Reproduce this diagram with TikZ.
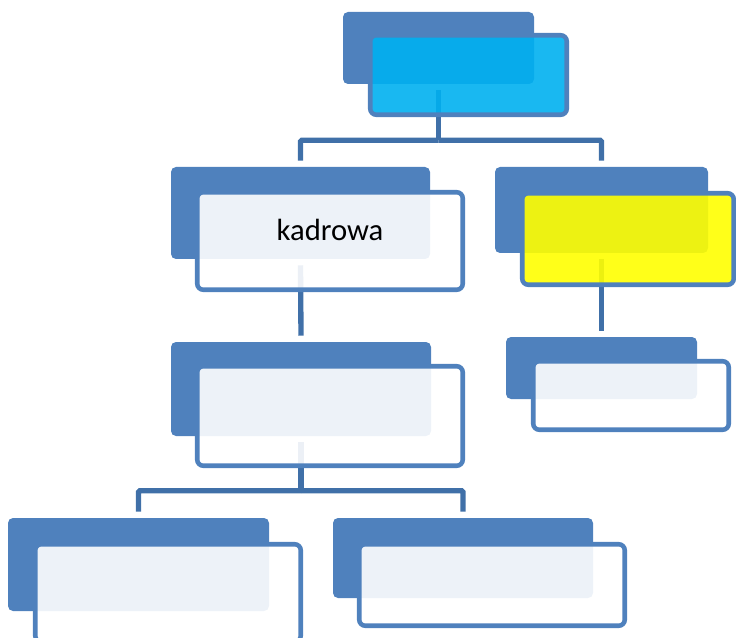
\documentclass[tikz,border=0pt]{standalone}
\usepackage{fontspec}
\setmainfont{Carlito}
\usetikzlibrary{fit,calc}
\definecolor{boxblue}{HTML}{4F81BD}
\definecolor{connblue}{HTML}{4070A8}
\definecolor{topcyan}{HTML}{00B0F0}
\definecolor{hiyellow}{HTML}{FFFF00}
\begin{document}
\begin{tikzpicture}[x={(0.75pt,0)}, y={(0,-0.75pt)},
  backbox/.style={fill=boxblue, draw=none, rounded corners=3.75pt, inner sep=0pt},
  frontbox/.style={draw=boxblue, line width=3.4pt, fill=white, fill opacity=0.9, text opacity=1, rounded corners=4.5pt, inner sep=0pt},
  conn/.style={draw=connblue, line width=4pt, rounded corners=1pt}]
\useasboundingbox (0,0) rectangle (736,638);
\clip (0,0) rectangle (736,638);
% back boxes
\node[backbox, fit={(343,12)(534,84)}] (b1) {};
\node[backbox, fit={(171,167)(430,259)}] (b2) {};
\node[backbox, fit={(495,167)(708,253)}] (b3) {};
\node[backbox, fit={(171,342)(431,436)}] (b4) {};
\node[backbox, fit={(506,337)(697,399)}] (b5) {};
\node[backbox, fit={(8,518)(269,611)}] (b6) {};
\node[backbox, fit={(333,518)(593,598)}] (b7) {};
% connectors
\coordinate (j1) at ($(b1.south)+(0,56)$);
\coordinate (j2) at ($(b4.south)+(0,54.5)$);
\draw[conn] ([yshift=-4.5pt]b1.south) -- (j1);
\draw[conn] (j1) -| ([yshift=4.5pt]b2.north);
\draw[conn] (j1) -| ([yshift=4.5pt]b3.north);
\draw[conn] ([yshift=-4.5pt]b2.south) -- ([yshift=4.5pt]b4.north);
\draw[conn] ([yshift=-4.5pt]b3.south) -- ([yshift=4.5pt]b5.north);
\draw[conn] ([yshift=-4.5pt]b4.south) -- (j2);
\draw[conn] (j2) -| ([yshift=4.5pt]b6.north);
\draw[conn] (j2) -| ([yshift=4.5pt]b7.north);
% front boxes
\node[frontbox, fill=topcyan, fit={(370.25,35.25)(566.75,114.75)}] (f1) {};
\node[frontbox, fit={(197.25,192.25)(462.75,289.75)}, font=\fontsize{23}{27}\selectfont] (f2) {kadrowa};
\node[frontbox, fill=hiyellow, fit={(522.25,193.25)(733.75,284.75)}] (f3) {};
\node[frontbox, fit={(197.25,366.25)(462.75,465.75)}] (f4) {};
\node[frontbox, fit={(533.25,361.25)(728.75,429.75)}] (f5) {};
\node[frontbox, fit={(35.25,544.25)(300.75,641.75)}] (f6) {};
\node[frontbox, fit={(359.25,544.25)(624.75,625.75)}] (f7) {};
\end{tikzpicture}
\end{document}
